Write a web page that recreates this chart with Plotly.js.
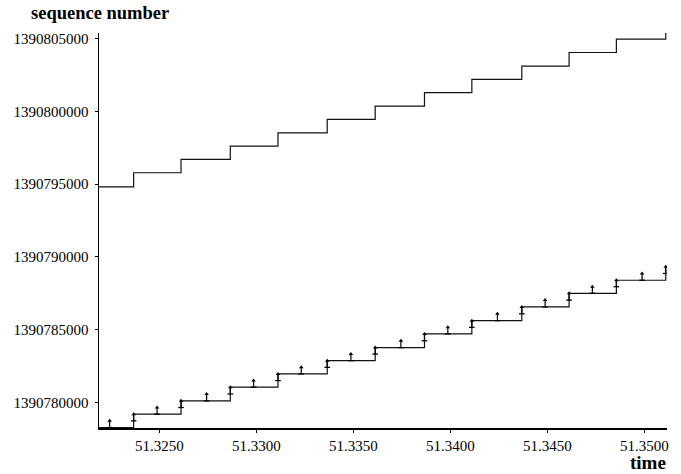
<!DOCTYPE html>
<html>
<head>
<meta charset="utf-8">
<script src="https://cdn.plot.ly/plotly-3.0.1.min.js"></script>
<style>html,body{margin:0;padding:0;background:#fff;}#chart{width:681px;height:474px;}</style>
</head>
<body>
<div id="chart"></div>
<script>
// ---- data ----
// times at which the ack / window lines step up (first = left edge, last = right edge)
const stepTimes = [51.32189, 51.323676, 51.326118, 51.328658, 51.331115, 51.333654, 51.336127,
  51.338667, 51.341109, 51.343684, 51.346121, 51.348558, 51.351103];
// acknowledged sequence number (lower step line)
const ackSeq = [1390778270, 1390779190, 1390780105, 1390781045, 1390781955, 1390782870, 1390783765,
  1390784705, 1390785620, 1390786560, 1390787500, 1390788395, 1390789325];
// ack + advertised window (upper step line)
const winSeq = [1390794820, 1390795785, 1390796705, 1390797615, 1390798530, 1390799450, 1390800365,
  1390801285, 1390802200, 1390803110, 1390804050, 1390804965, 1390805425];
// data segments sent: time, first and last sequence number
const segTime = [51.32244, 51.323676, 51.324882, 51.326118, 51.327437, 51.328658, 51.329858, 51.331115,
  51.332315, 51.333654, 51.334875, 51.336127, 51.337451, 51.338667, 51.339872, 51.341109,
  51.342427, 51.343684, 51.344885, 51.346121, 51.347321, 51.348558, 51.349882, 51.351103];
const segStart = [1390778270, 1390778730, 1390779190, 1390779650, 1390780105, 1390780575, 1390781045, 1390781500,
  1390781955, 1390782410, 1390782870, 1390783320, 1390783765, 1390784235, 1390784705, 1390785160,
  1390785620, 1390786090, 1390786560, 1390787030, 1390787500, 1390787950, 1390788395, 1390788860];
const segEnd = [1390778730, 1390779190, 1390779650, 1390780105, 1390780575, 1390781045, 1390781500, 1390781955,
  1390782410, 1390782870, 1390783320, 1390783765, 1390784235, 1390784705, 1390785160, 1390785620,
  1390786090, 1390786560, 1390787030, 1390787500, 1390787950, 1390788395, 1390788860, 1390789325];
// axis ticks
const xTicks = [51.325, 51.330, 51.335, 51.340, 51.345, 51.350];
const yTicks = [1390780000, 1390785000, 1390790000, 1390795000, 1390800000, 1390805000];

// ---- build traces ----
const segX = [], segY = [];
segTime.forEach((t, i) => { segX.push(t, t, null); segY.push(segStart[i], segEnd[i], null); });

const traces = [
  {x: stepTimes, y: ackSeq, mode: 'lines', line: {shape: 'hv', color: '#111', width: 1.2}, hoverinfo: 'skip'},
  {x: stepTimes, y: winSeq, mode: 'lines', line: {shape: 'hv', color: '#111', width: 1.2}, hoverinfo: 'skip'},
  {x: segX, y: segY, mode: 'lines', line: {color: '#000', width: 1.2}, hoverinfo: 'skip'},
  {x: segTime, y: segEnd, mode: 'markers', marker: {symbol: 'triangle-up', size: 4, color: '#000'}, hoverinfo: 'skip'},
  {x: segTime, y: segStart, mode: 'markers', marker: {symbol: 'line-ew', size: 4, line: {width: 1.3, color: '#000'}}, hoverinfo: 'skip'}
];

const serif = '"Liberation Serif", "Times New Roman", serif';
const tickFont = {family: serif, size: 15, color: '#000'};
const layout = {
  width: 681, height: 474,
  margin: {l: 99, r: 14, t: 33, b: 46, pad: 0},
  paper_bgcolor: '#fff', plot_bgcolor: '#fff',
  showlegend: false,
  xaxis: {
    range: [51.32189, 51.351168], tickvals: xTicks, tickformat: '.4f',
    showgrid: false, zeroline: false, showline: true, linecolor: '#000', linewidth: 1.5,
    ticks: 'outside', ticklen: 3, tickcolor: '#000', tickwidth: 1, tickfont: tickFont
  },
  yaxis: {
    range: [1390778240, 1390805390], tickvals: yTicks, tickformat: 'd',
    showgrid: false, zeroline: false, showline: true, linecolor: '#000', linewidth: 1.5,
    ticks: 'outside', ticklen: 3, tickcolor: '#000', tickwidth: 1, tickfont: tickFont,
    ticklabelstandoff: 3
  },
  annotations: [
    {text: '<b>sequence number</b>', xref: 'paper', yref: 'paper', x: -0.1232, y: 1.0506,
     xanchor: 'left', yanchor: 'middle', showarrow: false,
     font: {family: serif, size: 18.5, color: '#000'}},
    {text: '<b>time</b>', xref: 'paper', yref: 'paper', x: 1.0018, y: -0.0873,
     xanchor: 'right', yanchor: 'middle', showarrow: false,
     font: {family: serif, size: 19, color: '#000'}}
  ]
};

Plotly.newPlot('chart', traces, layout, {displayModeBar: false, staticPlot: true});
</script>
</body>
</html>
